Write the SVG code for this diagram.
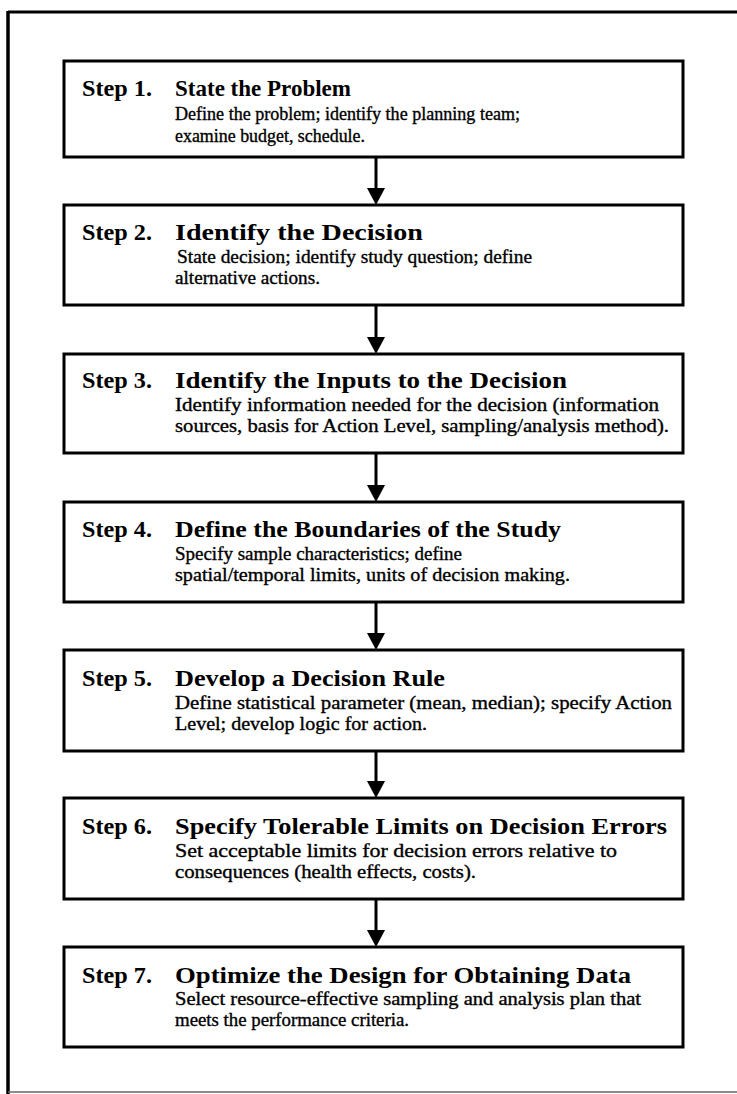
<svg xmlns="http://www.w3.org/2000/svg" width="737" height="1094" viewBox="0 0 737 1094">
<defs>
<style>
.box{fill:#fff;stroke:#000;stroke-width:3}
.t{font-family:"Liberation Serif","Times New Roman",serif;font-weight:bold;font-size:23px;fill:#000}
.d{font-family:"Liberation Serif","Times New Roman",serif;font-weight:normal;font-size:18px;fill:#000;stroke:#000;stroke-width:0.35}
.c{stroke:#000;stroke-width:3;fill:none}
.ah{fill:#000}
</style>
</defs>
<rect width="737" height="1094" fill="#fff"/>
<g id="frame">
<line x1="8" y1="12" x2="737" y2="12" stroke="#000" stroke-width="3"/>
<line x1="8" y1="11" x2="8" y2="1094" stroke="#000" stroke-width="3.5"/>
<line x1="8" y1="1092" x2="737" y2="1092" stroke="#666" stroke-width="1.5"/>
</g>
<g id="connectors">
<line class="c" x1="376" y1="158" x2="376" y2="190"/>
<polygon class="ah" points="367,188 385,188 376,205"/>
<line class="c" x1="376" y1="306" x2="376" y2="339"/>
<polygon class="ah" points="367,337 385,337 376,354"/>
<line class="c" x1="376" y1="454" x2="376" y2="487"/>
<polygon class="ah" points="367,485 385,485 376,502"/>
<line class="c" x1="376" y1="603" x2="376" y2="635"/>
<polygon class="ah" points="367,633 385,633 376,650"/>
<line class="c" x1="376" y1="752" x2="376" y2="783"/>
<polygon class="ah" points="367,781 385,781 376,798"/>
<line class="c" x1="376" y1="900" x2="376" y2="932"/>
<polygon class="ah" points="367,930 385,930 376,947"/>
</g>
<g id="step1">
<rect class="box" x="64" y="61" width="619" height="96"/>
<text class="t" x="82" y="96" textLength="70" lengthAdjust="spacingAndGlyphs">Step 1.</text>
<text class="t" x="175" y="96" textLength="176" lengthAdjust="spacingAndGlyphs">State the Problem</text>
<text class="d" x="175" y="120" textLength="345" lengthAdjust="spacingAndGlyphs">Define the problem; identify the planning team;</text>
<text class="d" x="175" y="142" textLength="190" lengthAdjust="spacingAndGlyphs">examine budget, schedule.</text>
</g>
<g id="step2">
<rect class="box" x="64" y="205" width="619" height="100"/>
<text class="t" x="82" y="240" textLength="70" lengthAdjust="spacingAndGlyphs">Step 2.</text>
<text class="t" x="175" y="240" textLength="248" lengthAdjust="spacingAndGlyphs">Identify the Decision</text>
<text class="d" x="177" y="263" textLength="355" lengthAdjust="spacingAndGlyphs">State decision; identify study question; define</text>
<text class="d" x="175" y="284" textLength="145" lengthAdjust="spacingAndGlyphs">alternative actions.</text>
</g>
<g id="step3">
<rect class="box" x="64" y="354" width="619" height="99"/>
<text class="t" x="82" y="388" textLength="70" lengthAdjust="spacingAndGlyphs">Step 3.</text>
<text class="t" x="175" y="388" textLength="392" lengthAdjust="spacingAndGlyphs">Identify the Inputs to the Decision</text>
<text class="d" x="175" y="411" textLength="484" lengthAdjust="spacingAndGlyphs">Identify information needed for the decision (information</text>
<text class="d" x="175" y="432" textLength="494" lengthAdjust="spacingAndGlyphs">sources, basis for Action Level, sampling/analysis method).</text>
</g>
<g id="step4">
<rect class="box" x="64" y="502" width="619" height="100"/>
<text class="t" x="82" y="537" textLength="70" lengthAdjust="spacingAndGlyphs">Step 4.</text>
<text class="t" x="175" y="537" textLength="386" lengthAdjust="spacingAndGlyphs">Define the Boundaries of the Study</text>
<text class="d" x="175" y="560" textLength="287" lengthAdjust="spacingAndGlyphs">Specify sample characteristics; define</text>
<text class="d" x="175" y="581" textLength="395" lengthAdjust="spacingAndGlyphs">spatial/temporal limits, units of decision making.</text>
</g>
<g id="step5">
<rect class="box" x="64" y="650" width="619" height="101"/>
<text class="t" x="82" y="686" textLength="70" lengthAdjust="spacingAndGlyphs">Step 5.</text>
<text class="t" x="175" y="686" textLength="270" lengthAdjust="spacingAndGlyphs">Develop a Decision Rule</text>
<text class="d" x="175" y="709" textLength="497" lengthAdjust="spacingAndGlyphs">Define statistical parameter (mean, median); specify Action</text>
<text class="d" x="175" y="730" textLength="252" lengthAdjust="spacingAndGlyphs">Level; develop logic for action.</text>
</g>
<g id="step6">
<rect class="box" x="64" y="798" width="619" height="101"/>
<text class="t" x="82" y="834" textLength="70" lengthAdjust="spacingAndGlyphs">Step 6.</text>
<text class="t" x="175" y="834" textLength="492" lengthAdjust="spacingAndGlyphs">Specify Tolerable Limits on Decision Errors</text>
<text class="d" x="175" y="857" textLength="442" lengthAdjust="spacingAndGlyphs">Set acceptable limits for decision errors relative to</text>
<text class="d" x="175" y="878" textLength="301" lengthAdjust="spacingAndGlyphs">consequences (health effects, costs).</text>
</g>
<g id="step7">
<rect class="box" x="64" y="947" width="619" height="100"/>
<text class="t" x="82" y="983" textLength="70" lengthAdjust="spacingAndGlyphs">Step 7.</text>
<text class="t" x="175" y="983" textLength="456" lengthAdjust="spacingAndGlyphs">Optimize the Design for Obtaining Data</text>
<text class="d" x="175" y="1005" textLength="466" lengthAdjust="spacingAndGlyphs">Select resource-effective sampling and analysis plan that</text>
<text class="d" x="175" y="1026" textLength="234" lengthAdjust="spacingAndGlyphs">meets the performance criteria.</text>
</g>
</svg>
